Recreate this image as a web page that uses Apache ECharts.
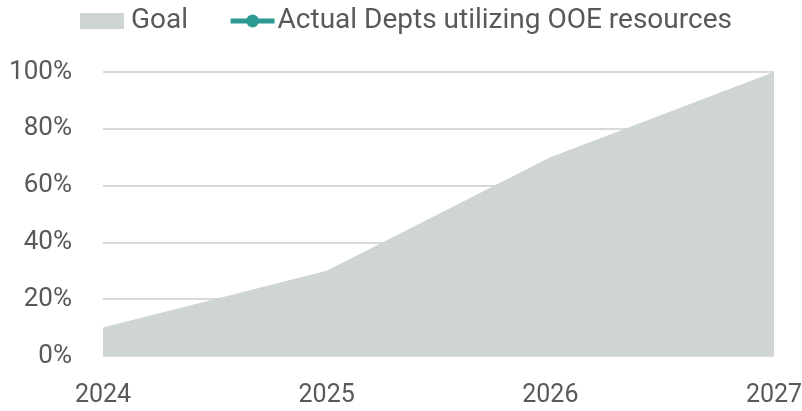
<!DOCTYPE html>
<html>
<head>
    <meta charset="utf-8">
    <script src="https://cdn.jsdelivr.net/npm/echarts@6/dist/echarts.min.js"></script>
    <style>
        html, body { margin: 0; padding: 0; background: #fff; }
        #chart { width: 802px; height: 411px; }
    </style>
</head>
<body>
    <div id="chart"></div>
<script type="text/javascript">
    var years = ['2024', '2025', '2026', '2027'];
    var goal = [10, 30, 70, 100];
    var actual = [null, null, null, null];

    var chart = echarts.init(document.getElementById('chart'));

    var option = {
        backgroundColor: '#fff',
        textStyle: { fontFamily: 'Roboto' },
        legend: {
            left: 75,
            top: 2,
            itemGap: 40,
            textStyle: { fontSize: 28, color: '#595959', fontFamily: 'Roboto', padding: [0, 0, 0, 2] },
            data: [
                { name: 'Goal', icon: 'rect', itemStyle: { color: '#cfd5d5' } },
                {
                    name: 'Actual Depts utilizing OOE resources',
                    textStyle: { padding: [0, 0, 0, -2] },
                    lineStyle: { width: 5, color: '#2e9a94' }
                }
            ],
            itemWidth: 44,
            itemHeight: 16
        },
        grid: { left: 103, right: 28, top: 72, bottom: 55, outerBoundsMode: 'none' },
        xAxis: {
            type: 'category',
            data: years,
            boundaryGap: false,
            axisLine: { show: false },
            axisTick: { show: false },
            axisLabel: { fontSize: 25, color: '#595959', margin: 27 }
        },
        yAxis: {
            type: 'value',
            min: 0,
            max: 100,
            interval: 20,
            axisLabel: { formatter: '{value}%', fontSize: 26, color: '#595959', margin: 31 },
            splitLine: { lineStyle: { color: '#d9d9d9', width: 2 } }
        },
        series: [
            {
                name: 'Goal',
                type: 'line',
                data: goal,
                symbol: 'none',
                itemStyle: { color: '#cfd5d5' },
                lineStyle: { width: 0 },
                areaStyle: { color: '#cfd5d5', opacity: 1 }
            },
            {
                name: 'Actual Depts utilizing OOE resources',
                type: 'line',
                data: actual,
                symbol: 'circle',
                symbolSize: 14,
                itemStyle: { color: '#2e9a94' },
                lineStyle: { color: '#2e9a94', width: 5 }
            }
        ]
    };

    chart.setOption(option);
</script>
</body>
</html>
